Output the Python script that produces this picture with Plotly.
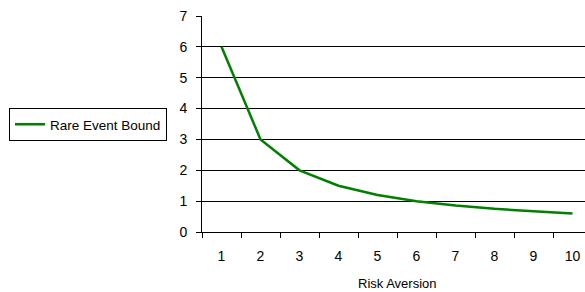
import plotly.graph_objects as go

categories = ["1", "2", "3", "4", "5", "6", "7", "8", "9", "10"]
rare_event_bound = [6.0, 3.0, 2.0, 1.5, 1.2, 1.0, 0.86, 0.75, 0.67, 0.6]
series_name = "Rare Event Bound"
x_title = "Risk Aversion"

W, H = 585, 292
L, T, B = 202, 16, 60
plot_w = W - L
plot_h = H - T - B
cat_px = 39.0
span = plot_w / cat_px

fig = go.Figure()
fig.add_trace(go.Scatter(
    x=categories, y=rare_event_bound, mode="lines", name=series_name,
    line=dict(color="#008000", width=2.5),
))

font = dict(family="Liberation Sans, Arial, sans-serif", size=13, color="#000000")

fig.update_layout(
    width=W, height=H,
    margin=dict(l=L, r=0, t=T, b=B, pad=0, autoexpand=False),
    paper_bgcolor="white", plot_bgcolor="white",
    font=font,
    showlegend=True,
    legend=dict(
        x=(9 - L) / plot_w, xanchor="left",
        y=(H - B - 108) / plot_h, yanchor="top",
        bordercolor="#000000", borderwidth=1,
        bgcolor="white", font=dict(size=13.5),
        itemwidth=30, tracegroupgap=0,
    ),
    xaxis=dict(
        type="category", range=[-0.5, -0.5 + span],
        showline=True, linecolor="#000000", linewidth=1,
        ticks="outside", ticklen=5, tickcolor="#000000",
        tickson="boundaries", showgrid=False, zeroline=False,
        tickfont=dict(size=14), ticklabelstandoff=11,
        automargin=False,
    ),
    yaxis=dict(
        range=[0, 7], dtick=1, tick0=0,
        showline=True, linecolor="#000000", linewidth=1,
        ticks="outside", ticklen=5, tickcolor="#000000",
        showgrid=True, gridcolor="#000000", gridwidth=1,
        zeroline=False, tickfont=dict(size=14), ticklabelstandoff=6,
        automargin=False,
    ),
    annotations=[dict(
        text=x_title, xref="x", yref="paper", x=4.5, y=(H - B - 283) / plot_h,
        xanchor="center", yanchor="middle", showarrow=False,
        font=dict(size=13),
    )],
)

fig.write_html(
    "out.html",
    config={"displayModeBar": False},
    post_script="document.body.style.margin='0px';document.body.style.overflow='hidden';",
)
